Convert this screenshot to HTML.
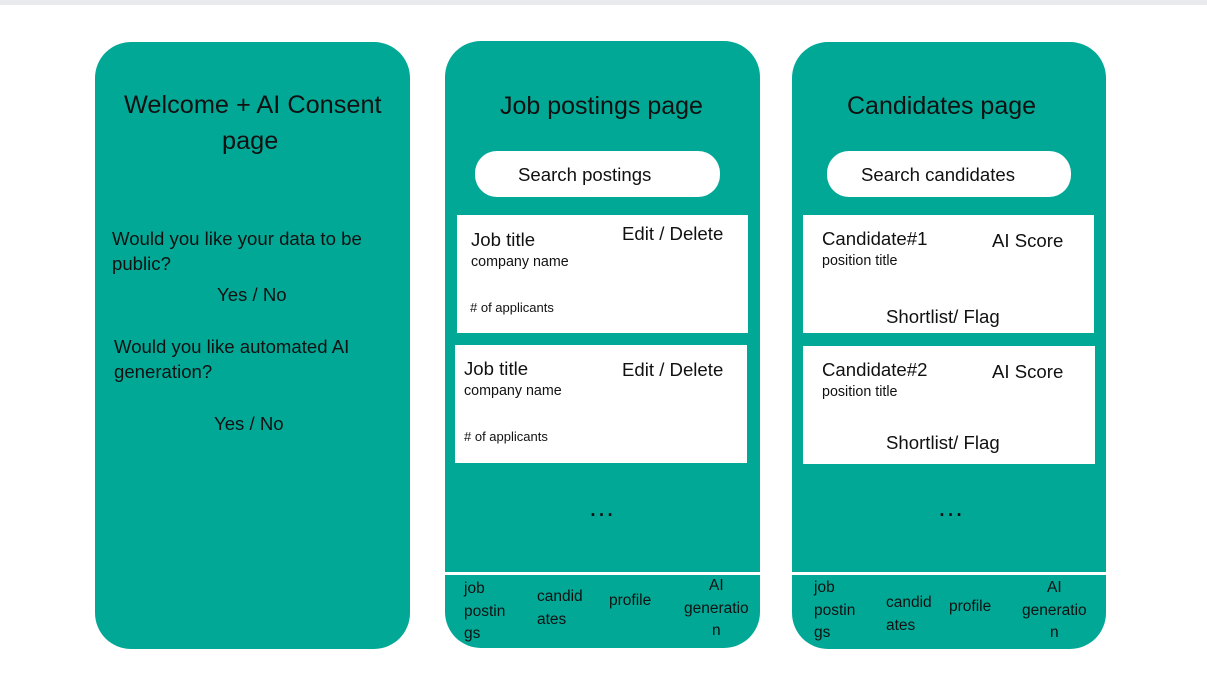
<!DOCTYPE html>
<html><head><meta charset="utf-8"><style>
body{margin:0;width:1207px;height:681px;background:#fff;position:relative;overflow:hidden;font-family:"Liberation Sans",Arial,sans-serif;color:#111}
.top{position:absolute;left:0;top:0;width:1207px;height:5px;background:#e9eaee}
.p{position:absolute;background:#02a896;border-radius:36px}
.t{position:absolute;white-space:nowrap}
.w{position:absolute;background:#fff}
.sr{position:absolute;background:#fff;border-radius:22px}
.line{position:absolute;background:#fff;height:3px}
.n{font-size:15.5px;line-height:22.5px}
</style></head><body>
<div class="top"></div>
<div class="p" style="left:95px;top:42px;width:315px;height:607px"></div>
<div class="p" style="left:445px;top:41px;width:315px;height:607px"></div>
<div class="p" style="left:792px;top:42px;width:314px;height:607px"></div>

<!-- panel 1 -->
<div class="t" style="left:124px;top:91px;font-size:25.3px">Welcome + AI Consent</div>
<div class="t" style="left:222px;top:127px;font-size:25.3px">page</div>
<div class="t" style="left:112px;top:228px;font-size:18.6px">Would you like your data to be</div>
<div class="t" style="left:112px;top:253px;font-size:18.6px">public?</div>
<div class="t" style="left:217px;top:284px;font-size:18.6px">Yes / No</div>
<div class="t" style="left:114px;top:336px;font-size:18.6px">Would you like automated AI</div>
<div class="t" style="left:114px;top:361px;font-size:18.6px">generation?</div>
<div class="t" style="left:214px;top:413px;font-size:18.6px">Yes / No</div>

<!-- panel 2 -->
<div class="t" style="left:500px;top:92px;font-size:25px">Job postings page</div>
<div class="sr" style="left:475px;top:151px;width:245px;height:46px"></div>
<div class="t" style="left:518px;top:164px;font-size:18.6px">Search postings</div>
<div class="w" style="left:457px;top:215px;width:291px;height:118px"></div>
<div class="t" style="left:471px;top:229px;font-size:18.6px">Job title</div>
<div class="t" style="left:622px;top:223px;font-size:18.6px">Edit / Delete</div>
<div class="t" style="left:471px;top:254px;font-size:14.3px">company name</div>
<div class="t" style="left:470px;top:300px;font-size:13px"># of applicants</div>
<div class="w" style="left:455px;top:345px;width:292px;height:118px"></div>
<div class="t" style="left:464px;top:358px;font-size:18.6px">Job title</div>
<div class="t" style="left:622px;top:359px;font-size:18.6px">Edit / Delete</div>
<div class="t" style="left:464px;top:383px;font-size:14.3px">company name</div>
<div class="t" style="left:464px;top:429px;font-size:13px"># of applicants</div>
<div class="t" style="left:588px;top:492px;font-size:27px">…</div>
<div class="line" style="left:445px;top:572px;width:315px"></div>
<div class="t n" style="left:464px;top:578px">job<br>postin<br>gs</div>
<div class="t n" style="left:537px;top:586px">candid<br>ates</div>
<div class="t n" style="left:609px;top:590px">profile</div>
<div class="t n" style="left:684px;top:575px;text-align:center">AI<br>generatio<br>n</div>

<!-- panel 3 -->
<div class="t" style="left:847px;top:92px;font-size:25px">Candidates page</div>
<div class="sr" style="left:827px;top:151px;width:244px;height:46px"></div>
<div class="t" style="left:861px;top:164px;font-size:18.6px">Search candidates</div>
<div class="w" style="left:803px;top:215px;width:291px;height:118px"></div>
<div class="t" style="left:822px;top:228px;font-size:18.6px">Candidate#1</div>
<div class="t" style="left:992px;top:230px;font-size:18.6px">AI Score</div>
<div class="t" style="left:822px;top:253px;font-size:14.3px">position title</div>
<div class="t" style="left:886px;top:306px;font-size:18.6px">Shortlist/ Flag</div>
<div class="w" style="left:803px;top:346px;width:292px;height:118px"></div>
<div class="t" style="left:822px;top:359px;font-size:18.6px">Candidate#2</div>
<div class="t" style="left:992px;top:361px;font-size:18.6px">AI Score</div>
<div class="t" style="left:822px;top:384px;font-size:14.3px">position title</div>
<div class="t" style="left:886px;top:432px;font-size:18.6px">Shortlist/ Flag</div>
<div class="t" style="left:937px;top:492px;font-size:27px">…</div>
<div class="line" style="left:792px;top:572px;width:314px"></div>
<div class="t n" style="left:814px;top:577px">job<br>postin<br>gs</div>
<div class="t n" style="left:886px;top:592px">candid<br>ates</div>
<div class="t n" style="left:949px;top:596px">profile</div>
<div class="t n" style="left:1022px;top:577px;text-align:center">AI<br>generatio<br>n</div>
</body></html>
